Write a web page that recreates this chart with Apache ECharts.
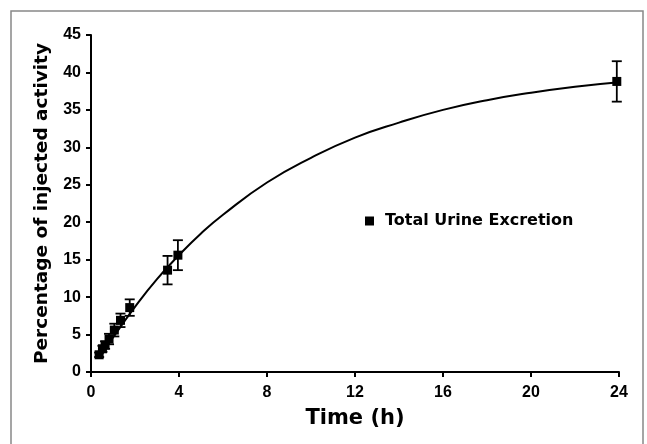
<!DOCTYPE html>
<html>
<head>
<meta charset="utf-8">
<script src="https://cdn.jsdelivr.net/npm/echarts@6/dist/echarts.min.js"></script>
<style>
    html, body { margin: 0; padding: 0; background: #fff; }
    #chart { width: 647px; height: 444px; }
</style>
</head>
<body>
<div id="chart"></div>
<script>
// measured points (time in h, % injected activity, +/- error)
let times = [0.37, 0.52, 0.64, 0.82, 1.06, 1.34, 1.76, 3.48, 3.95, 23.9];
let means = [2.3, 3.1, 3.6, 4.4, 5.6, 6.9, 8.6, 13.6, 15.6, 38.8];
let errs = [0.3, 0.4, 0.5, 0.7, 0.85, 0.9, 1.1, 1.9, 2.0, 2.7];

// fitted curve
let fitTimes = [0.37, 1, 2, 3, 4, 5, 6, 8, 10, 12, 14, 16, 18, 20, 22, 24];
let fitValues = [1.8, 4.6, 8.7, 12.4, 15.6, 18.5, 21.0, 25.3, 28.6, 31.3, 33.3, 35.0, 36.3, 37.3, 38.1, 38.7];

let xTicks = [0, 4, 8, 12, 16, 20, 24];
let yTicks = [0, 5, 10, 15, 20, 25, 30, 35, 40, 45];

let font = 'Liberation Sans, Arial, sans-serif';
let wide = 'DejaVu Sans, sans-serif';

let points = [];
let bars = [];
for (let i in times) {
    points.push([times[i], means[i]]);
    bars.push([times[i], means[i] - errs[i], means[i] + errs[i]]);
}
let fit = [];
for (let i in fitTimes) {
    fit.push([fitTimes[i], fitValues[i]]);
}

let MyChart = echarts.init(document.getElementById('chart'));
let option = {
    animation: false,
    backgroundColor: '#fff',
    graphic: [{
        type: 'rect',
        shape: { x: 11, y: 11, width: 632, height: 445 },
        style: { fill: 'none', stroke: '#888', lineWidth: 1.5 },
        silent: true
    }],
    grid: { left: 91, right: 28, top: 35, bottom: 72 },
    legend: {
        left: 360,
        top: 208,
        icon: 'rect',
        itemWidth: 9,
        itemHeight: 9,
        data: ['Total Urine Excretion'],
        textStyle: { fontFamily: wide, fontWeight: 'bold', fontSize: 16, color: '#000', padding: [0, 0, 0, 6] }
    },
    xAxis: {
        type: 'value',
        min: 0,
        max: 24,
        interval: 4,
        name: 'Time (h)',
        nameLocation: 'middle',
        nameGap: 36,
        nameTextStyle: { fontFamily: wide, fontWeight: 'bold', fontSize: 21, color: '#000' },
        splitLine: { show: false },
        axisLine: { lineStyle: { color: '#000', width: 2 } },
        axisTick: { length: 5, lineStyle: { color: '#000', width: 2 } },
        axisLabel: {
            fontFamily: font, fontWeight: 'bold', fontSize: 16, color: '#000', margin: 13,
            formatter: function (v) { return xTicks.indexOf(v) >= 0 ? v : ''; }
        }
    },
    yAxis: {
        type: 'value',
        min: 0,
        max: 45,
        interval: 5,
        name: 'Percentage of injected activity',
        nameLocation: 'middle',
        nameGap: 39,
        nameTextStyle: { fontFamily: wide, fontWeight: 'bold', fontSize: 18.5, color: '#000' },
        splitLine: { show: false },
        axisLine: { show: true, lineStyle: { color: '#000', width: 2 } },
        axisTick: { show: true, length: 5, lineStyle: { color: '#000', width: 2 } },
        axisLabel: {
            fontFamily: font, fontWeight: 'bold', fontSize: 16, color: '#000', margin: 10,
            formatter: function (v) { return yTicks.indexOf(v) >= 0 ? v : ''; }
        }
    },
    series: [{
        type: 'line',
        data: fit,
        smooth: true,
        showSymbol: false,
        lineStyle: { color: '#000', width: 2 },
        z: 2
    },
    {
        type: 'custom',
        data: bars,
        renderItem: function (params, api) {
            let top = api.coord([api.value(0), api.value(2)]);
            let bot = api.coord([api.value(0), api.value(1)]);
            let st = { stroke: '#000', lineWidth: 1.8 };
            return {
                type: 'group',
                children: [
                    { type: 'line', shape: { x1: top[0], y1: top[1], x2: bot[0], y2: bot[1] }, style: st },
                    { type: 'line', shape: { x1: top[0] - 5, y1: top[1], x2: top[0] + 5, y2: top[1] }, style: st },
                    { type: 'line', shape: { x1: bot[0] - 5, y1: bot[1], x2: bot[0] + 5, y2: bot[1] }, style: st }
                ]
            };
        },
        z: 3
    },
    {
        name: 'Total Urine Excretion',
        type: 'scatter',
        data: points,
        symbol: 'rect',
        symbolSize: 9,
        itemStyle: { color: '#000', opacity: 1 },
        z: 4
    }]
};
MyChart.setOption(option);
</script>
</body>
</html>
